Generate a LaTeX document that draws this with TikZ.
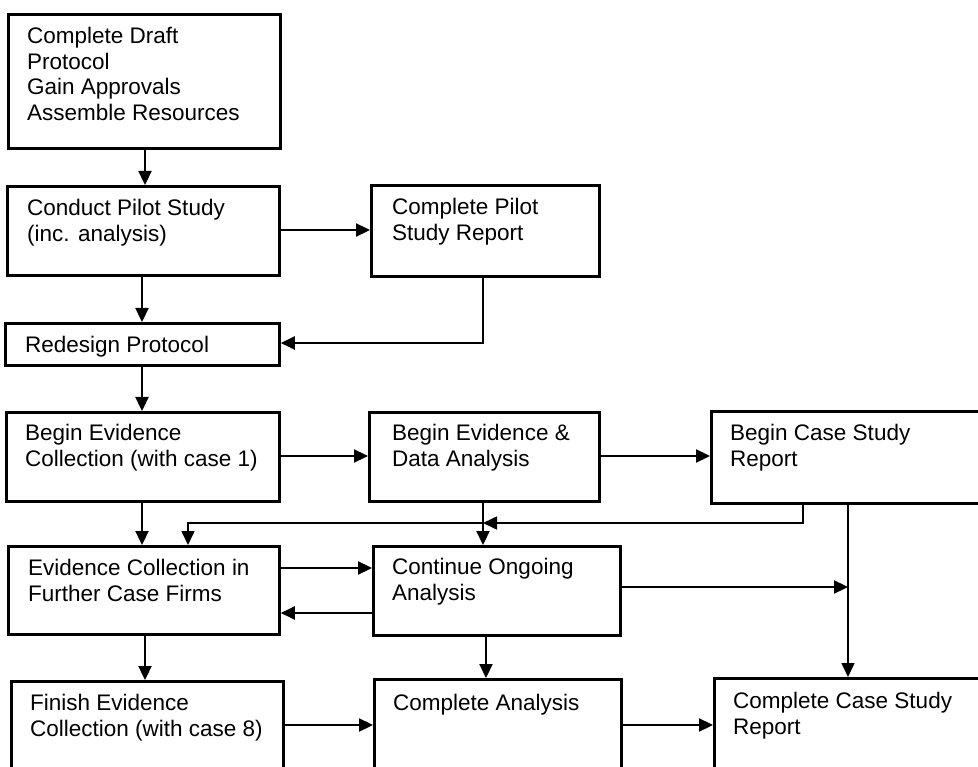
\documentclass[tikz,border=0pt]{standalone}
\usepackage{fontspec}
\setmainfont{Liberation Sans}
\usetikzlibrary{arrows.meta}
\begin{document}
\begin{tikzpicture}[x=1pt,y=-1pt,
  box/.style={draw=black,line width=2.8pt,rectangle,inner sep=0pt,anchor=north west},
  lbl/.style={anchor=north west,inner sep=0pt,align=left,
    font=\fontsize{22.5}{25.5}\selectfont},
  arr/.style={line width=2.3pt,-{Triangle[length=14pt,width=13pt]}},
  thinarr/.style={line width=1.6pt,-{Triangle[length=14pt,width=13pt]}}]
\useasboundingbox (0,0) rectangle (978,767);
% boxes (corner, width, height)
\node[box,minimum width=272pt,minimum height=134pt] (b1) at (7,13) {};
\node[box,minimum width=272pt,minimum height=89pt] (b2) at (6,185) {};
\node[box,minimum width=228pt,minimum height=91pt] (b3) at (370,184) {};
\node[box,minimum width=274pt,minimum height=42pt] (b4) at (4,322) {};
\node[box,minimum width=273pt,minimum height=89pt] (b5) at (5,411) {};
\node[box,minimum width=230pt,minimum height=89pt] (b6) at (368,411) {};
\node[box,minimum width=290pt,minimum height=92pt] (b7) at (710,410) {};
\node[box,minimum width=271pt,minimum height=88pt] (b8) at (7,545) {};
\node[box,minimum width=247pt,minimum height=89pt] (b9) at (372,545) {};
\node[box,minimum width=272pt,minimum height=110pt] (b10) at (10,680) {};
\node[box,minimum width=247pt,minimum height=112pt] (b11) at (373,678) {};
\node[box,minimum width=290pt,minimum height=113pt] (b12) at (713,677) {};
% box texts
\node[lbl] (t1) at ([shift={(20,14)}]b1.north west) {Complete Draft\\Protocol\\Gain Approvals\\Assemble Resources};
\node[lbl] (t2) at ([shift={(21,14)}]b2.north west) {Conduct Pilot Study\\(inc. analysis)};
\node[lbl] (t3) at ([shift={(22,14)}]b3.north west) {Complete Pilot\\Study Report};
\node[lbl] (t4) at ([shift={(21,14)}]b4.north west) {Redesign Protocol};
\node[lbl] (t5) at ([shift={(20,13)}]b5.north west) {Begin Evidence\\Collection (with case 1)};
\node[lbl] (t6) at ([shift={(24,13)}]b6.north west) {Begin Evidence \&\\Data Analysis};
\node[lbl] (t7) at ([shift={(20,14)}]b7.north west) {Begin Case Study\\Report};
\node[lbl] (t8) at ([shift={(21,14)}]b8.north west) {Evidence Collection in\\Further Case Firms};
\node[lbl] (t9) at ([shift={(20,13)}]b9.north west) {Continue Ongoing\\Analysis};
\node[lbl] (t10) at ([shift={(20,14)}]b10.north west) {Finish Evidence\\Collection (with case 8)};
\node[lbl] (t11) at ([shift={(20,16)}]b11.north west) {Complete Analysis};
\node[lbl] (t12) at ([shift={(20,15)}]b12.north west) {Complete Case Study\\Report};
% lanes and turning points
\coordinate (xa) at (145,0);
\coordinate (xb) at (142,0);
\coordinate (xc) at (483,0);
\coordinate (xd) at (486,0);
\coordinate (xe) at (188,0);
\coordinate (xf) at (803,0);
\coordinate (xg) at (848,0);
\coordinate (ya) at (0,230);
\coordinate (yb) at (0,343);
\coordinate (yc) at (0,456);
\coordinate (yd) at (0,523);
\coordinate (ye) at (0,568);
\coordinate (yf) at (0,613);
\coordinate (yg) at (0,587);
\coordinate (yh) at (0,725);
% connectors
\draw[arr] (b1.south -| xa) -- (b2.north -| xa);
\draw[arr] (b2.east |- ya) -- (b3.west |- ya);
\draw[arr] (b2.south -| xb) -- (b4.north -| xb);
\draw[arr] (b3.south -| xc) -- (xc |- yb) -- (b4.east |- yb);
\draw[arr] (b4.south -| xb) -- (b5.north -| xb);
\draw[arr] (b5.east |- yc) -- (b6.west |- yc);
\draw[arr] (b6.east |- yc) -- (b7.west |- yc);
\draw[arr] (b5.south -| xb) -- (b8.north -| xb);
\draw[thinarr] (b7.south -| xf) -- (xf |- yd) -- (xc |- yd);
\draw[thinarr] (xc |- yd) -- (xe |- yd) -- (b8.north -| xe);
\draw[arr] (b6.south -| xc) -- (b9.north -| xc);
\draw[arr] (b8.east |- ye) -- (b9.west |- ye);
\draw[arr] (b9.west |- yf) -- (b8.east |- yf);
\draw[arr] (b9.east |- yg) -- (xg |- yg);
\draw[thinarr] (b7.south -| xg) -- (b12.north -| xg);
\draw[arr] (b8.south -| xa) -- (b10.north -| xa);
\draw[arr] (b9.south -| xd) -- (b11.north -| xd);
\draw[arr] (b10.east |- yh) -- (b11.west |- yh);
\draw[arr] (b11.east |- yh) -- (b12.west |- yh);
\end{tikzpicture}
\end{document}
